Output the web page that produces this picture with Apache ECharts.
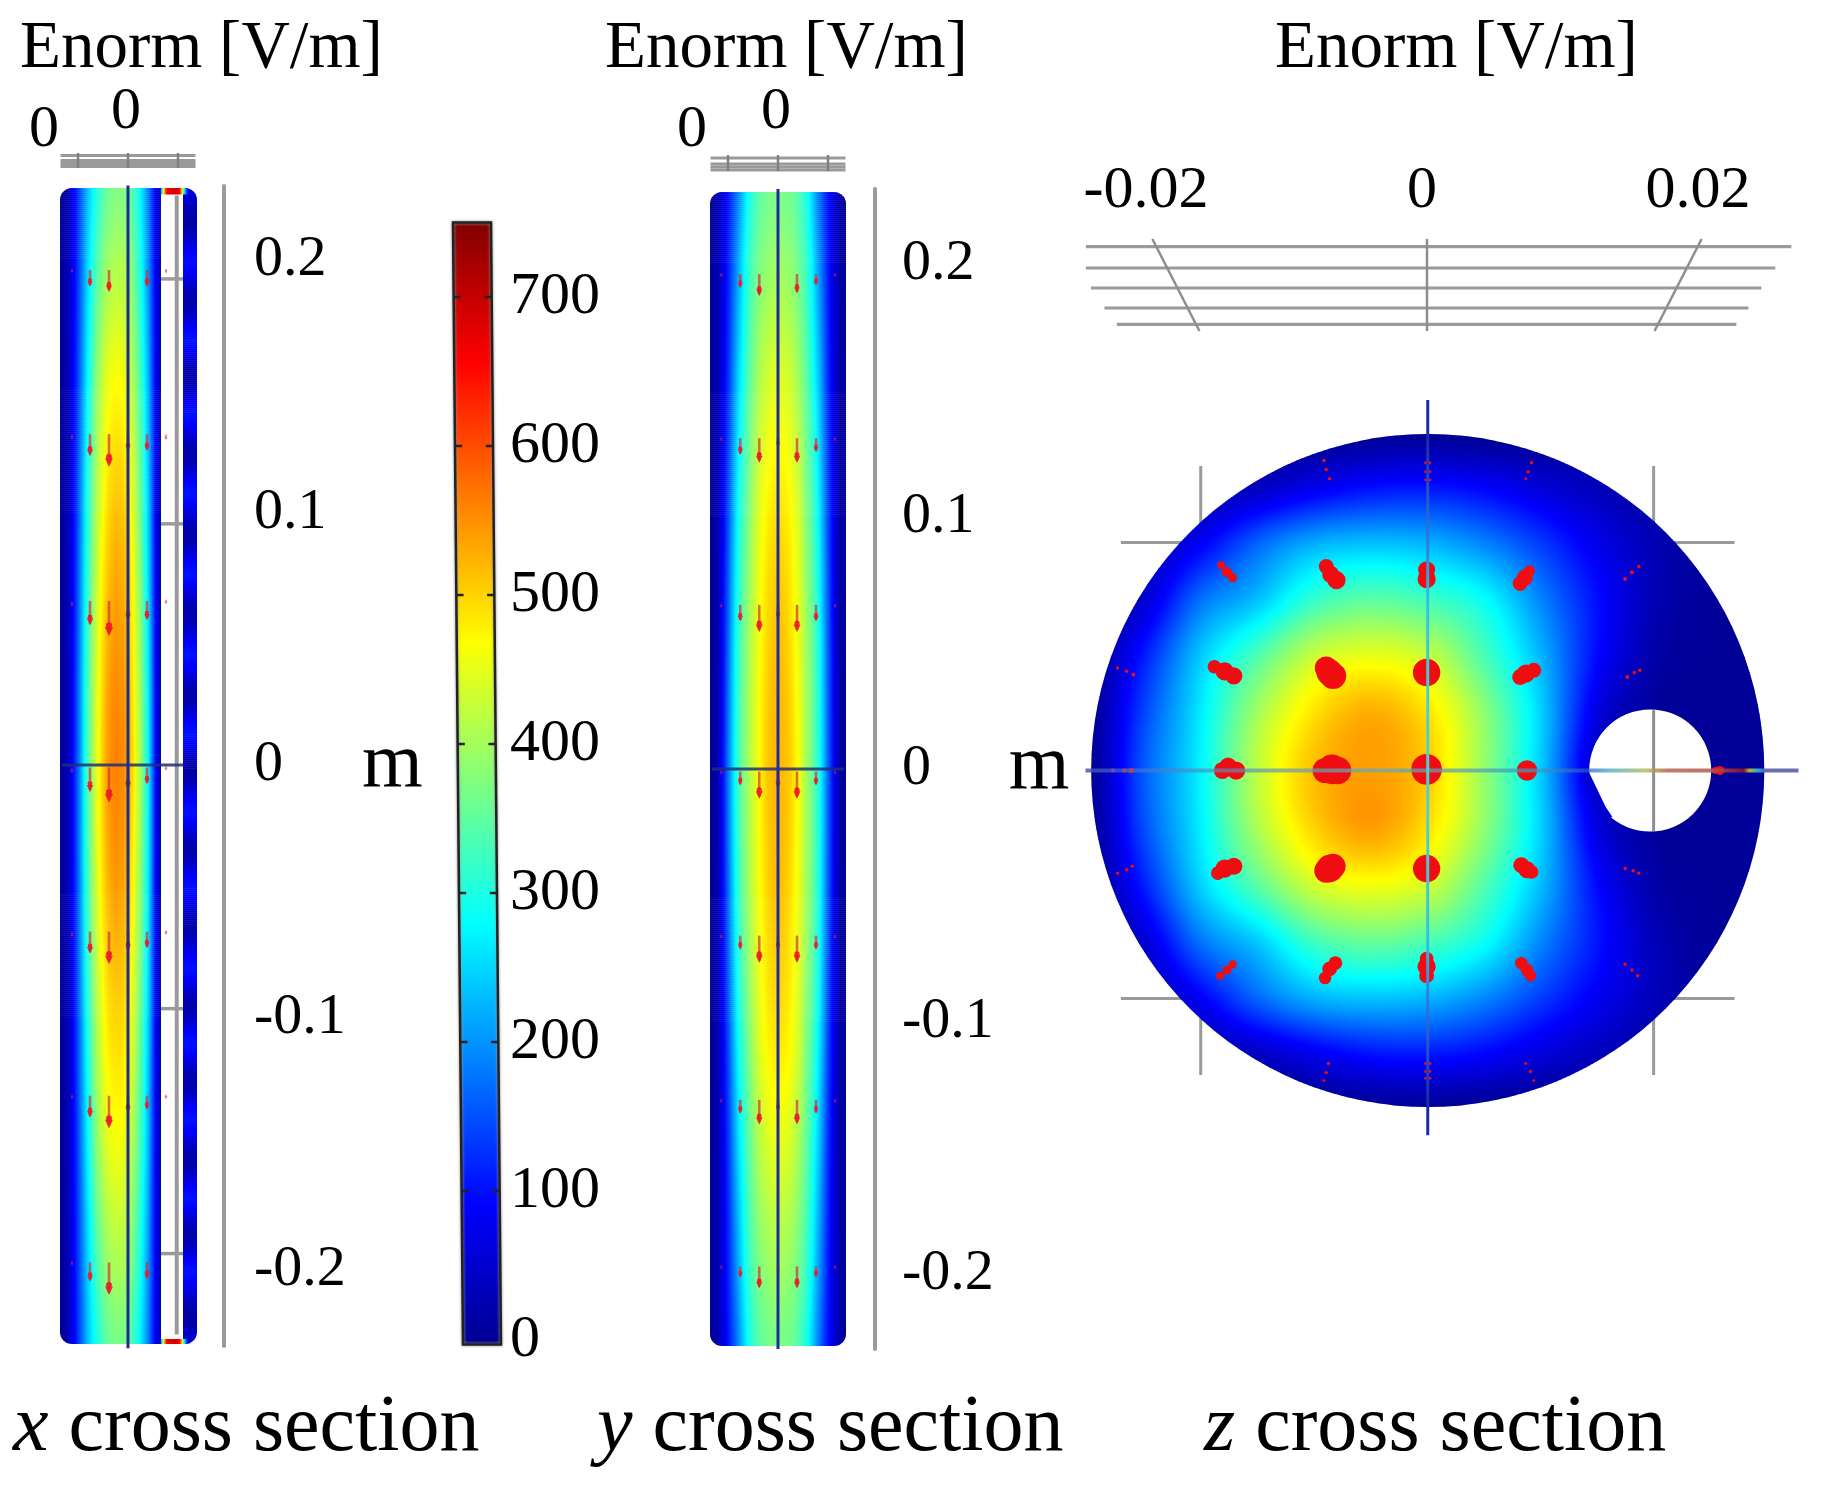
<!DOCTYPE html>
<html>
<head>
<meta charset="utf-8">
<title>Enorm cross sections</title>
<script src="https://cdn.jsdelivr.net/npm/echarts@6/dist/echarts.min.js"></script>
<style>
  html, body { margin: 0; background: #fff; }
  #chart { width: 1832px; height: 1487px; }
</style>
</head>
<body>
<div id="chart"></div>
<script>
// colour scale of the bar, 0-750 V/m
const jetValues = [0, 94, 281, 469, 656, 750];
const jetColors = [[0, 0, 143], [0, 0, 255], [0, 255, 255], [255, 255, 0], [255, 0, 0], [128, 0, 0]];
const colorbarTicks = [0, 100, 200, 300, 400, 500, 600, 700];
const lengthTicks = [-0.2, -0.1, 0, 0.1, 0.2];
const widthTicks = [-0.02, 0, 0.02];

// x cross section: Enorm read across the cylinder (mm) at each height (m)
const xSectionCols = [-27, -24, -20, -16, -12, -8, -4, 0, 4, 8, 12, 14];
const xSectionRows = [0.23, 0.2, 0.15, 0.1, 0.05, 0, -0.05, -0.1, -0.15, -0.2, -0.23];
const xSectionField = [
  [5, 38, 130, 235, 310, 360, 375, 360, 295, 190, 60, 25],
  [5, 38, 135, 255, 345, 395, 410, 395, 320, 205, 60, 25],
  [6, 40, 145, 285, 395, 455, 470, 445, 360, 230, 60, 28],
  [6, 40, 155, 310, 425, 495, 515, 490, 390, 250, 60, 28],
  [7, 42, 165, 330, 450, 525, 545, 515, 415, 270, 60, 30],
  [7, 42, 170, 340, 460, 540, 560, 530, 430, 281, 60, 30],
  [7, 42, 165, 330, 448, 520, 540, 510, 410, 270, 60, 30],
  [6, 40, 155, 305, 420, 485, 500, 480, 385, 250, 60, 28],
  [6, 40, 145, 280, 390, 445, 460, 440, 355, 230, 60, 28],
  [5, 38, 135, 250, 340, 390, 405, 390, 315, 205, 60, 25],
  [5, 38, 130, 235, 305, 355, 370, 355, 290, 190, 60, 25]
];
// the thin wall right of the slot, dark and bright bands along the height
const wallCols = [22, 27.6];
const wallRows = [0.229, 0.215, 0.2, 0.184, 0.169, 0.154, 0.139, 0.124, 0.108, 0.092, 0.076, 0.061, 0.044, 0.028, 0.013, -0.002,
  -0.018, -0.033, -0.048, -0.064, -0.08, -0.095, -0.11, -0.125, -0.14, -0.156, -0.171, -0.186, -0.2, -0.217, -0.229];
const wallValues = [70, 20, 100, 25, 105, 25, 105, 25, 105, 25, 105, 25, 105, 25, 105, 20,
  105, 25, 105, 25, 105, 25, 105, 25, 105, 25, 105, 25, 105, 20, 60];
// hot caps closing the slot at both ends
const capCols = [13.2, 14, 15, 16, 20.5, 21.6, 22.5, 24];
const capValues = [200, 400, 600, 670, 670, 500, 280, 90];

// y cross section
const ySectionCols = [-27, -24, -20, -16, -12, -8, -4, 0, 4, 8, 12, 16, 20, 24, 27];
const ySectionRows = [0.23, 0.2, 0.15, 0.1, 0.05, 0, -0.05, -0.1, -0.15, -0.2, -0.23];
const ySectionField = [
  [5, 35, 105, 190, 285, 340, 365, 370, 365, 340, 285, 190, 105, 35, 5],
  [5, 35, 115, 215, 310, 365, 390, 400, 390, 365, 310, 215, 115, 35, 5],
  [6, 35, 130, 250, 340, 405, 440, 450, 440, 405, 340, 250, 130, 35, 6],
  [6, 38, 150, 285, 370, 440, 480, 490, 480, 440, 370, 285, 150, 38, 6],
  [6, 38, 170, 310, 395, 455, 500, 515, 500, 455, 390, 305, 165, 38, 6],
  [6, 38, 180, 320, 400, 460, 510, 520, 510, 465, 390, 310, 170, 38, 6],
  [6, 38, 170, 310, 395, 455, 500, 515, 500, 455, 390, 305, 165, 38, 6],
  [6, 38, 150, 285, 370, 440, 480, 490, 480, 440, 370, 285, 150, 38, 6],
  [6, 35, 130, 250, 340, 405, 440, 450, 440, 405, 340, 250, 130, 35, 6],
  [5, 35, 115, 215, 310, 365, 390, 400, 390, 365, 310, 215, 115, 35, 5],
  [5, 35, 105, 190, 285, 340, 365, 370, 365, 340, 285, 190, 105, 35, 5]
];

// z cross section, both directions in mm
const zSectionCols = [-30, -25, -20, -15, -10, -5, 0, 5, 10, 15, 20, 25, 30];
const zSectionRows = [30, 25, 20, 15, 10, 5, 0, -5, -10, -15, -20, -25, -30];
const zSectionField = [
  [-10, -10, -10, -10, -5, 0, 0, -5, -5, 5, 8, 8, 8],
  [-10, 0, 15, 40, 75, 100, 105, 90, 60, 35, 15, 8, 8],
  [-5, 20, 85, 165, 220, 235, 225, 190, 135, 75, 30, 8, 8],
  [-5, 55, 175, 235, 320, 350, 330, 285, 190, 100, 30, 8, 8],
  [-5, 110, 240, 340, 430, 455, 430, 335, 225, 95, 20, 8, 8],
  [-5, 140, 265, 400, 490, 530, 490, 385, 245, 65, 10, 8, 8],
  [-5, 155, 272, 420, 515, 540, 505, 390, 240, 40, 8, 8, 8],
  [-5, 145, 268, 405, 500, 540, 490, 385, 245, 65, 10, 8, 8],
  [-5, 110, 245, 345, 435, 460, 435, 340, 230, 95, 20, 8, 8],
  [-5, 55, 175, 240, 325, 355, 335, 285, 190, 105, 35, 8, 8],
  [-5, 20, 85, 165, 220, 235, 225, 190, 135, 80, 35, 10, 8],
  [-10, 0, 15, 40, 75, 100, 105, 90, 60, 35, 15, 8, 8],
  [-10, -10, -10, -10, -5, 0, 0, -5, -5, 5, 8, 8, 8]
];
const zDiscRadius = 29.5;
const zHole = [19.5, 0, 5.35];
const zHoleWedge = [[14.06, 0], [15.6, -3.2], [16.2, -4.1], [15.3, -4.1], [13.5, -0.6]];

// red field arrows in the two long sections: length in mm per row and column
const arrowRows = [0.196, 0.131, 0.065, -0.001, -0.066, -0.131, -0.197];
const xArrowCols = [-22.4, -15.2, -7.6, 0, 7.6, 15.2];
const xArrowLens = [
  [1, 6, 8, 2, 6, 1],
  [2, 8, 12, 6, 6, 2],
  [2, 9, 13, 7, 7, 1],
  [2, 9, 13, 8, 6, 1],
  [2, 8, 12, 7, 6, 1],
  [1, 8, 12, 6, 5, 1],
  [1, 7, 12, 2, 6, 0]
];
const yArrowCols = [-22.7, -15.1, -7.5, 0, 7.6, 15.2, 22.8];
const yArrowLens = [
  [1, 5, 8, 2, 7, 4, 1],
  [1, 6, 9, 3, 9, 5, 1],
  [1, 6, 10, 5, 10, 6, 1],
  [1, 5, 10, 6, 10, 5, 1],
  [1, 5, 10, 5, 10, 5, 1],
  [1, 5, 9, 4, 9, 5, 1],
  [1, 4, 8, 2, 8, 4, 1]
];

// red spots in the z section: x mm, y mm, diameter mm
const zSpots = [
  [-18.1, 18, 0.7], [-17.6, 17.4, 0.9], [-17.1, 16.9, 0.8], [-8.9, 17.9, 1.3], [-8.5, 17.2, 1.5], [-8, 16.7, 1.6],
  [-0.1, 17.6, 1.5], [-0.1, 16.8, 1.6], [8.9, 17.5, 1], [8.5, 16.9, 1.4], [8.1, 16.4, 1.3],
  [18.5, 17.9, 0.3], [17.9, 17.4, 0.35], [17.3, 16.8, 0.35],
  [-18.7, 9.1, 1.2], [-17.8, 8.7, 1.6], [-17, 8.3, 1.5], [-8.9, 9, 2], [-8.6, 8.6, 2.3], [-8.3, 8.3, 2.3],
  [-0.1, 8.6, 2.4], [9.3, 8.8, 1.3], [8.6, 8.5, 1.6], [8.1, 8.2, 1.4],
  [18.6, 8.8, 0.3], [18.1, 8.6, 0.3], [17.5, 8.2, 0.35], [-27.2, 9, 0.3], [-26.4, 8.7, 0.3], [-25.8, 8.4, 0.35],
  [-18, 0, 1.5], [-17.5, 0.4, 1.5], [-16.8, 0, 1.6], [-9, 0, 2.2], [-8.4, 0.1, 2.6], [-7.9, 0, 2.4],
  [-0.1, 0.1, 2.7], [8.7, 0, 1.8], [-27.6, 0, 0.35], [-26.6, 0, 0.4], [-26, 0, 0.5], [25.2, 0, 0.6], [25.6, 0, 0.8],
  [-18.4, -9, 1.2], [-17.8, -8.6, 1.6], [-17, -8.4, 1.5], [-8.9, -8.8, 2.1], [-8.6, -8.6, 2.4], [-8.3, -8.4, 2.2],
  [-0.1, -8.6, 2.4], [8.2, -8.3, 1.4], [8.7, -8.7, 1.5], [9.1, -8.9, 1.2],
  [17.3, -8.6, 0.3], [18, -8.8, 0.3], [18.5, -9, 0.3], [-27.2, -9, 0.3], [-26.4, -8.7, 0.3], [-25.9, -8.4, 0.3],
  [-18.2, -18, 0.7], [-17.6, -17.5, 0.8], [-17.1, -17, 0.7], [-9, -18.2, 1.1], [-8.6, -17.4, 1.3], [-8.1, -16.9, 1.2],
  [-0.1, -18, 1.3], [-0.1, -17.2, 1.6], [-0.1, -16.5, 1.2], [8.2, -16.9, 1.1], [8.7, -17.5, 1.1], [9, -18, 1],
  [17.3, -17, 0.3], [17.9, -17.5, 0.3], [18.4, -18, 0.3],
  [-9.1, 27.2, 0.3], [-8.9, 26.4, 0.3], [-8.6, 25.6, 0.3], [-0.2, 27, 0.25], [0.2, 27, 0.25], [-0.2, 26.2, 0.25],
  [0.2, 26.2, 0.25], [-0.2, 25.5, 0.25], [0.2, 25.5, 0.25], [9.1, 27, 0.3], [8.8, 26.2, 0.3], [8.6, 25.6, 0.25],
  [-8.7, -25.7, 0.3], [-8.9, -26.5, 0.3], [-9.1, -27.2, 0.25], [-0.2, -25.7, 0.25], [0.2, -25.7, 0.25], [-0.2, -26.4, 0.25],
  [0.2, -26.4, 0.25], [-0.2, -27, 0.25], [0.2, -27, 0.25], [8.6, -25.7, 0.25], [9, -26.4, 0.3], [9.3, -27.2, 0.25]
];

const serif = '"Liberation Serif"';
const GRAY = '#9a9a9a';

function jet(v) {
  v = Math.max(jetValues[0], Math.min(jetValues[jetValues.length - 1], v));
  let k = 0;
  while (k < jetValues.length - 2 && v > jetValues[k + 1]) k++;
  const t = (v - jetValues[k]) / (jetValues[k + 1] - jetValues[k]);
  const c = jetColors[k].map((a, n) => Math.round(a + (jetColors[k + 1][n] - a) * t));
  return 'rgb(' + c.join(',') + ')';
}

// smooth shading between the read samples
function spline(a, b, c, d, t) {
  return 0.5 * (2 * b + (c - a) * t + (2 * a - 5 * b + 4 * c - d) * t * t + (3 * b - a - 3 * c + d) * t * t * t);
}
function shade(rows, fr, fc) {
  const lastR = rows.length - 1, lastC = rows[0].length - 1;
  const r = Math.min(Math.floor(fr), Math.max(lastR - 1, 0)), c = Math.min(Math.floor(fc), Math.max(lastC - 1, 0));
  const across = [];
  for (let i = -1; i < 3; i++) {
    const row = rows[Math.max(0, Math.min(lastR, r + i))];
    const p = n => row[Math.max(0, Math.min(lastC, c + n))];
    across.push(spline(p(-1), p(0), p(1), p(2), fc - c));
  }
  return spline(across[0], across[1], across[2], across[3], fr - r);
}
function colIndex(xs, x) {
  if (x <= xs[0]) return 0;
  for (let i = 0; i < xs.length - 1; i++) {
    if (x <= xs[i + 1]) return i + (x - xs[i]) / (xs[i + 1] - xs[i]);
  }
  return xs.length - 1;
}

function fieldSeries(g, xs, ys, rows, xFrom, xTo, clipShape, z, nStops) {
  const stops = [];
  for (let s = 0; s <= nStops; s++) {
    const x = xFrom + (xTo - xFrom) * s / nStops;
    stops.push({ offset: s / nStops, fc: colIndex(xs, x) });
  }
  return {
    type: 'custom', coordinateSystem: 'cartesian2d', xAxisIndex: g, yAxisIndex: g, z, silent: true, clip: false,
    progressive: 0,
    data: ys.slice(0, -1).map((y, i) => [xs[0], y, i]),
    renderItem(params, api) {
      const i = api.value(2);
      const top = api.coord([xFrom, ys[i]]), bottom = api.coord([xTo, ys[i + 1]]);
      const children = [];
      for (let py = top[1]; py < bottom[1]; py += 2) {
        const fr = i + (py - top[1]) / (bottom[1] - top[1]);
        children.push({
          type: 'rect',
          shape: { x: top[0], y: py, width: bottom[0] - top[0], height: 2.6 },
          style: { fill: { type: 'linear', x: 0, y: 0, x2: 1, y2: 0, colorStops: stops.map(s => ({ offset: s.offset, color: jet(shade(rows, fr, s.fc)) })) } }
        });
      }
      return { type: 'group', children, clipPath: clipShape(api) };
    }
  };
}

function roundedClip(xMin, xMax, yTop, yBottom, r) {
  return api => {
    const a = api.coord([xMin, yTop]), b = api.coord([xMax, yBottom]);
    return { type: 'rect', shape: { x: a[0], y: a[1], width: b[0] - a[0], height: b[1] - a[1], r } };
  };
}

function seg(g, pts, color, width, z) {
  return {
    type: 'line', xAxisIndex: g, yAxisIndex: g, data: pts, symbol: 'none', silent: true, clip: false, z,
    lineStyle: { color, width, cap: 'butt' }
  };
}

// a straight axis line whose colour changes along it
function paintedLine(g, horizontal, at, vals, colors, thick, z) {
  return {
    type: 'custom', coordinateSystem: 'cartesian2d', xAxisIndex: g, yAxisIndex: g, z, silent: true, clip: false,
    data: [[vals[0], at]],
    renderItem(params, api) {
      const a = horizontal ? api.coord([vals[0], at]) : api.coord([at, vals[0]]);
      const b = horizontal ? api.coord([vals[vals.length - 1], at]) : api.coord([at, vals[vals.length - 1]]);
      const colorStops = vals.map((v, k) => ({ offset: (v - vals[0]) / (vals[vals.length - 1] - vals[0]), color: colors[k] }));
      return {
        type: 'rect',
        shape: horizontal
          ? { x: a[0], y: a[1] - thick / 2, width: b[0] - a[0], height: thick }
          : { x: a[0] - thick / 2, y: a[1], width: thick, height: b[1] - a[1] },
        style: { fill: { type: 'linear', x: 0, y: 0, x2: horizontal ? 1 : 0, y2: horizontal ? 0 : 1, colorStops } }
      };
    }
  };
}

function arrowSeries(g, cols, lens, z) {
  return {
    type: 'custom', coordinateSystem: 'cartesian2d', xAxisIndex: g, yAxisIndex: g, z, silent: true, clip: false,
    data: arrowRows.flatMap((y, r) => cols.map((x, c) => [x, y, lens[r][c]])),
    renderItem(params, api) {
      const len = api.value(2);
      if (!len) return null;
      const a = api.coord([api.value(0), api.value(1)]);
      const b = api.coord([api.value(0), api.value(1) - len / 1000]);
      const faint = len <= 2;
      const head = faint ? 1.4 : 1.3 + len * 0.22;
      const color = faint ? 'rgba(200,40,80,.4)' : 'rgba(235,28,38,.92)';
      return {
        type: 'group',
        children: [
          { type: 'line', shape: { x1: a[0], y1: a[1], x2: b[0], y2: b[1] }, style: { stroke: faint ? 'rgba(200,40,80,.3)' : 'rgba(220,45,60,.7)', lineWidth: 2.6 } },
          { type: 'polygon', shape: { points: [[b[0] - head, b[1] - head * 1.6], [b[0] + head, b[1] - head * 1.6], [b[0], b[1] + head * 0.6]] }, style: { fill: color } },
          { type: 'circle', shape: { cx: b[0], cy: b[1] - head * 2, r: head * 0.75 }, style: { fill: color } }
        ]
      };
    }
  };
}

function hidden(gridIndex, min, max, extra) {
  return Object.assign({ type: 'value', gridIndex, min, max, show: false }, extra || {});
}

function lengthAxis(gridIndex, min, max, margin, pad, name, nameGap) {
  return {
    type: 'value', gridIndex, min, max, position: 'right',
    name, nameLocation: 'middle', nameRotate: 0, nameGap,
    nameTextStyle: { fontFamily: serif, fontSize: 78, color: '#000' },
    splitLine: { show: false }, axisTick: { show: false },
    axisLine: { show: true, onZero: false, lineStyle: { color: GRAY, width: 4 } },
    axisLabel: { customValues: lengthTicks, margin, padding: [pad, 0, 0, 0], fontFamily: serif, fontSize: 58, color: '#000', formatter: v => String(v) }
  };
}

const grids = [
  { left: 60, top: 186, width: 164, height: 1160 },
  { left: 60, top: 150, width: 137, height: 22 },
  { left: 710, top: 189, width: 165, height: 1160 },
  { left: 710, top: 150, width: 137, height: 24 },
  { left: 453, top: 222.5, width: 48, height: 1122 },
  { left: 1085.5, top: 400, width: 713, height: 736 },
  { left: 1078, top: 239, width: 730, height: 92 }
];

const xAxes = [
  hidden(0, -27.2, 38.4),
  hidden(1, -27.2, 27.6),
  hidden(2, -27.2, 38.8),
  hidden(3, -27.2, 27.6),
  hidden(4, 0, 1),
  hidden(5, -30, 32.5),
  {
    type: 'value', gridIndex: 6, min: -0.02529, max: 0.02761, position: 'top',
    axisLine: { show: false }, axisTick: { show: false }, splitLine: { show: false },
    axisLabel: { customValues: widthTicks, margin: 18, padding: [0, 10, 0, 0], fontFamily: serif, fontSize: 60, color: '#000', formatter: v => String(v) }
  }
];
const yAxes = [
  lengthAxis(0, -0.2301, 0.2293, 30, 10, 'm', 138),
  hidden(1, 0, 22, { inverse: true }),
  lengthAxis(2, -0.2297, 0.2297, 27, 2, '', 0),
  hidden(3, 0, 24, { inverse: true }),
  {
    type: 'value', gridIndex: 4, min: -3, max: 750, position: 'right',
    axisLine: { show: false }, axisTick: { show: false }, splitLine: { show: false },
    axisLabel: { customValues: colorbarTicks, margin: 9, fontFamily: serif, fontSize: 60, color: '#000' }
  },
  {
    type: 'value', gridIndex: 5, min: -32.06, max: 32.5, position: 'left',
    name: 'm', nameLocation: 'middle', nameRotate: 0, nameGap: 16,
    nameTextStyle: { fontFamily: serif, fontSize: 78, color: '#000' },
    axisLine: { show: false }, axisTick: { show: false }, splitLine: { show: false }, axisLabel: { show: false }
  },
  hidden(6, 0, 92, { inverse: true })
];

const series = [];

// --- x cross section ---
const xClip = roundedClip(-27.2, 27.6, 0.2285, -0.2293, 12);
series.push(fieldSeries(0, xSectionCols, xSectionRows, xSectionField, -27.2, 13.2, xClip, 2, 70));
series.push(fieldSeries(0, wallCols, wallRows, wallValues.map(v => [v, v]), 22, 27.6, xClip, 2, 2));
series.push(fieldSeries(0, capCols, [0.2285, 0.2265], [capValues, capValues], 13.2, 24, xClip, 3, 30));
series.push(fieldSeries(0, capCols, [-0.2273, -0.2293], [capValues, capValues], 13.2, 24, xClip, 3, 30));
series.push(seg(0, [[19.5, 0.2255], [19.5, -0.2255]], GRAY, 4, 1));
[0.1925, 0.0955, -0.0965, -0.1935].forEach(y => series.push(seg(0, [[13.2, y], [22, y]], GRAY, 3.5, 1)));
series.push(seg(0, [[-26.5, 0], [22, 0]], 'rgba(35,45,125,.85)', 3, 5));
series.push(seg(0, [[0, 0.2295], [0, -0.231]], '#1f2c8c', 3, 5));
series.push(arrowSeries(0, xArrowCols, xArrowLens, 4));
[5.5, 10.5, 13.5, 16.5].forEach(d => series.push(seg(1, [[-27, d], [27, d]], GRAY, 2.8, 1)));
[-20, 0, 20].forEach(x => series.push(seg(1, [[x, 3], [x, 18]], '#808080', 2.5, 2)));

// --- y cross section ---
const yClip = roundedClip(-27.2, 27.2, 0.2285, -0.2285, 12);
series.push(fieldSeries(2, ySectionCols, ySectionRows, ySectionField, -27.2, 27.2, yClip, 2, 80));
series.push(seg(2, [[-26.5, 0], [26.5, 0]], 'rgba(35,45,125,.85)', 3, 5));
series.push(seg(2, [[0, 0.2297], [0, -0.2297]], '#1f2ca0', 3, 5));
series.push(arrowSeries(2, yArrowCols, yArrowLens, 4));
[8, 14, 17, 20].forEach(d => series.push(seg(3, [[-27, d], [27, d]], GRAY, 2.8, 1)));
[-20, 0, 20].forEach(x => series.push(seg(3, [[x, 5], [x, 21]], '#808080', 2.5, 2)));

// --- colour bar, slightly skewed like the source image ---
series.push({
  type: 'custom', coordinateSystem: 'cartesian2d', xAxisIndex: 4, yAxisIndex: 4, z: 2, silent: true, clip: false,
  data: [[0, 0]],
  renderItem(params, api) {
    const lean = v => (10 / 48) * (750 - v) / 753;
    const pts = [[lean(750), 750], [lean(750) + 38 / 48, 750], [lean(-3) + 38 / 48, -3], [lean(-3), -3]].map(p => api.coord(p));
    const colorStops = jetValues.map((v, k) => ({ offset: 1 - v / 750, color: jet(v) }));
    const children = [
      { type: 'polygon', shape: { points: pts }, style: { fill: { type: 'linear', x: 0, y: 0, x2: 0, y2: 1, colorStops }, stroke: '#222', lineWidth: 2.5, shadowBlur: 3, shadowColor: '#999' } }
    ];
    colorbarTicks.slice(1).forEach(v => {
      const l = lean(v);
      [[l, l + 0.15], [l + 38 / 48 - 0.15, l + 38 / 48]].forEach(e => {
        const a = api.coord([e[0], v]), b = api.coord([e[1], v]);
        children.push({ type: 'line', shape: { x1: a[0], y1: a[1], x2: b[0], y2: b[1] }, style: { stroke: '#222', lineWidth: 2.5 } });
      });
    });
    return { type: 'group', children };
  }
});

// --- z cross section ---
series.push(seg(5, [[-19.9, 26.7], [-19.9, -26.7]], GRAY, 3, 1));
series.push(seg(5, [[19.8, 26.7], [19.8, -26.7]], GRAY, 3, 1));
series.push(seg(5, [[-26.9, 20], [26.9, 20]], GRAY, 3, 1));
series.push(seg(5, [[-26.9, -20], [26.9, -20]], GRAY, 3, 1));
series.push(fieldSeries(5, zSectionCols, zSectionRows, zSectionField, -30, 30, api => {
  const c = api.coord([0, 0]);
  return { type: 'circle', shape: { cx: c[0], cy: c[1], r: api.size([zDiscRadius, 0])[0] } };
}, 2, 130));
series.push({
  type: 'custom', coordinateSystem: 'cartesian2d', xAxisIndex: 5, yAxisIndex: 5, z: 3, silent: true, clip: false,
  data: [zHole],
  renderItem(params, api) {
    const c = api.coord([api.value(0), api.value(1)]);
    return {
      type: 'group',
      children: [
        { type: 'circle', shape: { cx: c[0], cy: c[1], r: api.size([api.value(2), 0])[0] }, style: { fill: '#fff' } },
        { type: 'polygon', shape: { points: zHoleWedge.map(p => api.coord(p)) }, style: { fill: jet(55) } }
      ]
    };
  }
});
series.push(seg(5, [[19.8, 5.3], [19.8, -5.3]], '#8e8e8e', 3, 4));
series.push({
  type: 'scatter', xAxisIndex: 5, yAxisIndex: 5, z: 5, silent: true, clip: false,
  data: zSpots, symbolSize: d => d[2] * 11.4, itemStyle: { color: '#f00d12', opacity: 1 }
});
series.push(paintedLine(5, true, 0,
  [-30, -27, -5, 10, 14, 16, 19, 21, 24.8, 27.7, 28.2, 29, 29.6, 32.5],
  ['rgba(70,80,170,.85)', 'rgba(70,120,200,.6)', 'rgba(110,170,170,.75)', 'rgba(60,150,190,.7)', 'rgba(40,90,200,.7)', 'rgba(70,170,190,.75)',
    'rgba(170,190,90,.8)', 'rgba(180,100,80,.85)', 'rgba(180,90,80,.85)', 'rgba(150,15,50,.9)', 'rgba(200,200,40,.9)', 'rgba(40,180,230,.9)',
    'rgba(90,95,165,.9)', 'rgba(90,95,165,.9)'], 4, 6));
series.push(paintedLine(5, false, 0,
  [32.5, 29, 20, 15, 5, -5, -15, -20, -29, -32],
  ['#1a2aa8', '#1a2aa8', '#2e7be0', '#35c0e0', '#50d0d0', '#50d0d0', '#35c0e0', '#2e7be0', '#1a2aa8', '#1a2aa8'], 3, 6));

// perspective box above the z section
const zBoxLines = [
  [-0.02472, 0.02640, 7.6],
  [-0.02472, 0.02524, 29],
  [-0.02435, 0.02423, 49],
  [-0.02337, 0.02329, 69],
  [-0.02247, 0.02242, 85.3]
];
const zBoxTicks = [[-0.0199, -0.01649], [0, 0], [0.0199, 0.01649]];
zBoxLines.forEach(l => series.push(seg(6, [[l[0], l[2]], [l[1], l[2]]], GRAY, 3.2, 1)));
zBoxTicks.forEach(t => series.push(seg(6, [[t[0], 0], [t[1], 92]], '#8e8e8e', 2.5, 2)));

function label(text, left, top, fontSize) {
  return {
    text, left, top,
    textStyle: { fontFamily: serif, fontWeight: 'normal', fontSize, color: '#000', rich: {
      i: { fontFamily: serif, fontStyle: 'italic', fontSize, color: '#000' },
      n: { fontFamily: serif, fontSize, color: '#000' }
    } }
  };
}

const option = {
  animation: false,
  backgroundColor: '#fff',
  title: [
    label('Enorm [V/m]', 15, 11, 67),
    label('Enorm [V/m]', 600, 11, 67),
    label('Enorm [V/m]', 1270, 11, 67),
    label('0', 24, 95, 60),
    label('0', 106, 77, 60),
    label('0', 672, 95, 60),
    label('0', 756, 77, 60),
    label('{i|x}{n| cross section}', 8, 1384, 80),
    label('{i|y}{n| cross section}', 592, 1384, 80),
    label('{i|z}{n| cross section}', 1199, 1384, 80)
  ],
  grid: grids,
  xAxis: xAxes,
  yAxis: yAxes,
  series
};

const chart = echarts.init(document.getElementById('chart'));
chart.setOption(option);
window.addEventListener('resize', () => chart.resize());
</script>
</body>
</html>
